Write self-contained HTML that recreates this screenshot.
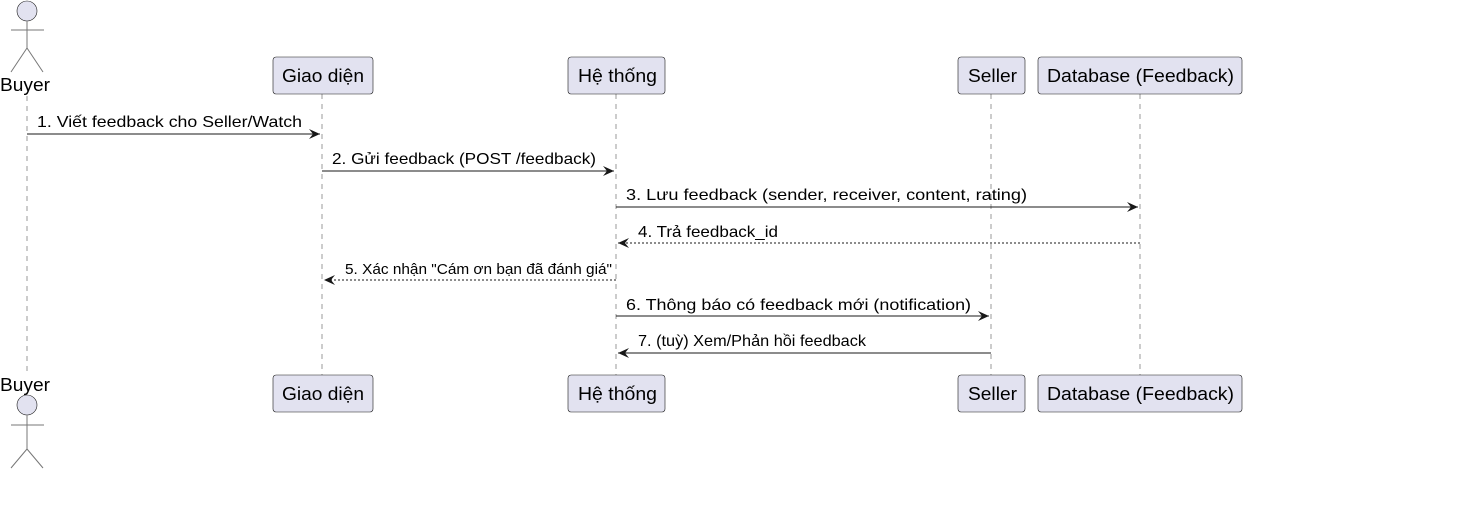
<!DOCTYPE html>
<html><head><meta charset="utf-8"><style>body{margin:0;background:#fff}svg{display:block}</style></head><body>
<svg width="1477" height="517" xmlns="http://www.w3.org/2000/svg" font-family="'Liberation Sans', sans-serif">
<defs>
<marker id="a" markerWidth="12" markerHeight="10" refX="11" refY="5" orient="auto" markerUnits="userSpaceOnUse"><path d="M0,0 L11,5 L0,10 L4,5 Z" fill="#181818"/></marker>
</defs>
<g stroke="#999" stroke-width="1" stroke-dasharray="5,5">
<line x1="27" y1="96" x2="27" y2="376"/>
<line x1="322" y1="94" x2="322" y2="375"/>
<line x1="616" y1="94" x2="616" y2="375"/>
<line x1="991" y1="94" x2="991" y2="375"/>
<line x1="1140" y1="94" x2="1140" y2="375"/>
</g>
<g fill="#E2E2F0" stroke="#181818" stroke-width="0.6">
<circle cx="27" cy="11" r="10"/>
<circle cx="27" cy="405" r="10"/>
<rect x="273" y="57" width="100" height="37" rx="3"/>
<rect x="568" y="57" width="97" height="37" rx="3"/>
<rect x="958" y="57" width="67" height="37" rx="3"/>
<rect x="1038" y="57" width="204" height="37" rx="3"/>
<rect x="273" y="375" width="100" height="37" rx="3"/>
<rect x="568" y="375" width="97" height="37" rx="3"/>
<rect x="958" y="375" width="67" height="37" rx="3"/>
<rect x="1038" y="375" width="204" height="37" rx="3"/>
</g>
<g stroke="#777" stroke-width="1" fill="none">
<path d="M27,21 V48 M11,30 H44 M27,48 L11,72 M27,48 L43,72"/>
<path d="M27,415 V449 M11,425 H44 M27,449 L11,468 M27,449 L43,468"/>
</g>
<g font-size="18" fill="#000" lengthAdjust="spacingAndGlyphs">
<text x="0" y="91" textLength="50" lengthAdjust="spacingAndGlyphs">Buyer</text>
<text x="0" y="391" textLength="50" lengthAdjust="spacingAndGlyphs">Buyer</text>
<text x="282" y="82" textLength="82" lengthAdjust="spacingAndGlyphs">Giao diện</text>
<text x="578" y="82" textLength="79" lengthAdjust="spacingAndGlyphs">Hệ thống</text>
<text x="968" y="82" textLength="49" lengthAdjust="spacingAndGlyphs">Seller</text>
<text x="1047" y="82" textLength="187" lengthAdjust="spacingAndGlyphs">Database (Feedback)</text>
<text x="282" y="400" textLength="82" lengthAdjust="spacingAndGlyphs">Giao diện</text>
<text x="578" y="400" textLength="79" lengthAdjust="spacingAndGlyphs">Hệ thống</text>
<text x="968" y="400" textLength="49" lengthAdjust="spacingAndGlyphs">Seller</text>
<text x="1047" y="400" textLength="187" lengthAdjust="spacingAndGlyphs">Database (Feedback)</text>
</g>
<g stroke="#181818" stroke-width="1" marker-end="url(#a)">
<line x1="27" y1="134" x2="320" y2="134"/>
<line x1="322" y1="171" x2="614" y2="171"/>
<line x1="616" y1="207" x2="1138" y2="207"/>
<line x1="1140" y1="243" x2="618" y2="243" stroke-dasharray="2,2"/>
<line x1="616" y1="280" x2="324" y2="280" stroke-dasharray="2,2"/>
<line x1="616" y1="316" x2="989" y2="316"/>
<line x1="991" y1="353" x2="618" y2="353"/>
</g>
<g font-size="16" fill="#000">
<text x="37" y="127" textLength="265" lengthAdjust="spacingAndGlyphs">1. Viết feedback cho Seller/Watch</text>
<text x="332" y="164" textLength="264" lengthAdjust="spacingAndGlyphs">2. Gửi feedback (POST /feedback)</text>
<text x="626" y="200" textLength="401" lengthAdjust="spacingAndGlyphs">3. Lưu feedback (sender, receiver, content, rating)</text>
<text x="638" y="237" textLength="140" lengthAdjust="spacingAndGlyphs">4. Trả feedback_id</text>
<text x="345" y="274" textLength="267" lengthAdjust="spacingAndGlyphs" font-size="15">5. Xác nhận "Cám ơn bạn đã đánh giá"</text>
<text x="626" y="310" textLength="345" lengthAdjust="spacingAndGlyphs">6. Thông báo có feedback mới (notification)</text>
<text x="638" y="346" textLength="228" lengthAdjust="spacingAndGlyphs">7. (tuỳ) Xem/Phản hồi feedback</text>
</g>
</svg>
</body></html>
